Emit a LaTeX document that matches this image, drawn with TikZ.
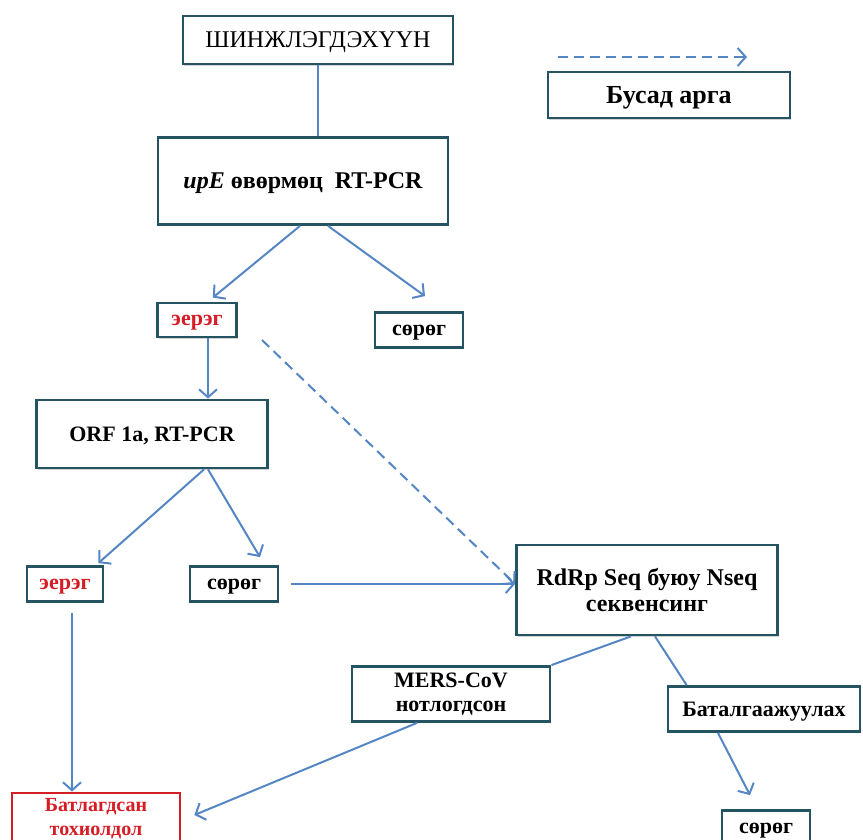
\documentclass[tikz,border=0pt]{standalone}
\usepackage{fontspec}
\setmainfont{Liberation Serif}
\usetikzlibrary{calc}
\usetikzlibrary{arrows.meta,shadows}

\definecolor{boxteal}{RGB}{36,84,98}
\definecolor{arrblue}{RGB}{84,134,196}
\definecolor{posred}{RGB}{214,28,36}

\tikzset{
  frame/.style={draw=boxteal, line width=1.4pt, fill=white, inner sep=2pt,
    drop shadow={shadow xshift=0.6pt, shadow yshift=-0.8pt, opacity=0.35}},
  box/.style={frame, text depth=0pt},
  mbox/.style={frame, align=center},
  conn/.style={draw=arrblue, line width=1pt},
  arr/.style={conn, -{Straight Barb[length=4pt,width=9pt]}},
  dasharr/.style={arr, dash pattern=on 5pt off 3pt},
  fbig/.style={font=\fontsize{12}{13}\selectfont\bfseries},
  fmid/.style={font=\fontsize{11}{12}\selectfont\bfseries},
  fsmall/.style={font=\fontsize{10}{12}\selectfont\bfseries}
}

\begin{document}
\begin{tikzpicture}[x=0.5pt,y=-0.5pt]
\useasboundingbox (0,0) rectangle (863,840);

% main chain
\node[box, font=\fontsize{12}{14}\selectfont, minimum width=135pt, minimum height=24pt] (shinj) at (318,40) {ШИНЖЛЭГДЭХҮҮН};
\node[box, fbig, minimum width=145pt, minimum height=43.5pt] (upE) at (303,181) {{\itshape upE} өвөрмөц\ \ RT-PCR};
\node[box, fmid, text=posred, minimum width=39.5pt, minimum height=17pt] (eereg1) at (197,320) {эерэг};
\node[box, fmid, minimum width=44pt, minimum height=17.5pt] (sorog1) at (419,330) {сөрөг};
\node[box, fmid, minimum width=115.5pt, minimum height=34pt] (orf) at (152,434) {ORF 1a, RT-PCR};
\node[box, fmid, text=posred, minimum width=38pt, minimum height=17.5pt] (eereg2) at (65,584) {эерэг};
\node[box, fmid, minimum width=44pt, minimum height=17.5pt] (sorog2) at (234,584) {сөрөг};

% sequencing and result
\node[mbox, fbig, minimum width=130.5pt, minimum height=45pt] (rdrp) at (647,590) {RdRp Seq буюу Nseq\\секвенсинг};
\node[mbox, fmid, minimum width=99pt, minimum height=27.5pt] (mers) at (451,694) {MERS-CoV\\нотлогдсон};
\node[box, fmid, minimum width=96pt, minimum height=22.5pt] (batal) at (764,709) {Баталгаажуулах};
\node[box, fmid, minimum width=44pt, minimum height=17.5pt] (sorog3) at (766,828) {сөрөг};
\node[mbox, fsmall, draw=posred, text=posred, minimum width=84pt, minimum height=26pt] (batlag) at (96,819) {Батлагдсан\\тохиолдол};

% legend
\coordinate (legA) at (558,57);
\coordinate (legB) at (747,57);
\draw[dasharr] (legA) -- (legB);
\node[box, font=\fontsize{13}{15}\selectfont\bfseries, minimum width=121pt, minimum height=23pt] (busad) at (669,95) {Бусад арга};

% connectors
\draw[conn] (shinj.south) -- (shinj.south |- upE.north);
\draw[arr] ($(upE.south)+(-3,0)$) -- ($(eereg1.north east)+(-25,-4)$);
\draw[arr] ($(upE.south)+(25,0)$) -- ($(sorog1.north)+(6,-15)$);
\draw[arr] ([xshift=5.5pt]eereg1.south) -- ([xshift=5.5pt]eereg1.south |- orf.north);
\draw[arr] ($(orf.south)+(52,0)$) -- ($(eereg2.north east)+(-6,-2)$);
\draw[arr] ($(orf.south)+(56,0)$) -- ($(sorog2.north)+(26,-8)$);
\draw[arr, shorten <=6pt] (sorog2.east) -- (sorog2.east -| rdrp.west);
\coordinate (dstart) at (262,340);
\draw[dasharr] (dstart) -- (sorog2.east -| rdrp.west);
\draw[conn] ($(rdrp.south)+(-16,0)$) -- (mers.north east);
\draw[conn] ($(rdrp.south)+(8,0)$) -- ($(batal.north west)+(20,0)$);
\draw[arr] ($(batal.south)+(-46,0)$) -- ($(sorog3.north)+(-16,-14)$);
\draw[arr] ($(mers.south)+(-34,0)$) -- ($(batlag.east)+(13,-4)$);
\draw[arr, shorten <=5pt] ([xshift=3.5pt]eereg2.south) -- ([xshift=3.5pt]eereg2.south |- batlag.north);
\end{tikzpicture}
\end{document}
